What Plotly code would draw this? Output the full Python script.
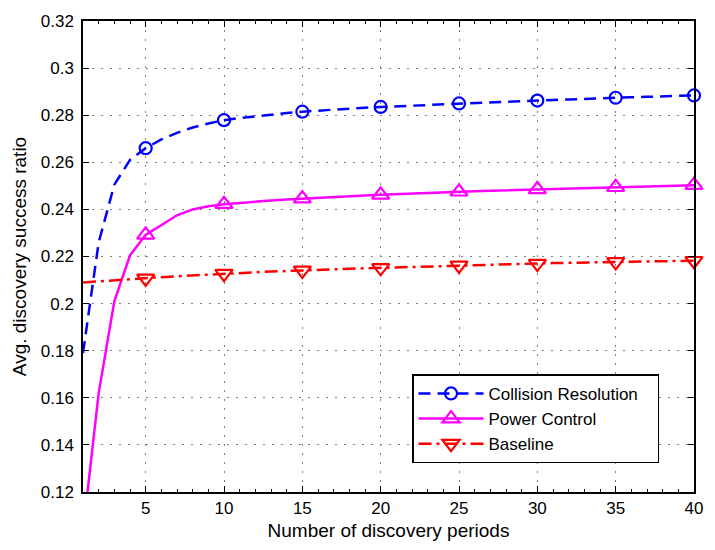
import plotly.graph_objects as go

# Number of discovery periods
periods = list(range(1, 41))

# Average discovery success ratio per scheme
collision_resolution = [
    0.1790, 0.2260, 0.2505, 0.2610, 0.2660, 0.2697, 0.2725, 0.2748, 0.2765, 0.2779,
    0.2788, 0.2796, 0.2803, 0.2809, 0.2815, 0.2820, 0.2824, 0.2828, 0.2832, 0.2835,
    0.2838, 0.2841, 0.2844, 0.2847, 0.2850, 0.2853, 0.2855, 0.2858, 0.2860, 0.2862,
    0.2865, 0.2867, 0.2870, 0.2872, 0.2874, 0.2876, 0.2878, 0.2880, 0.2882, 0.2884,
]
power_control = [
    0.1030, 0.1620, 0.2010, 0.2205, 0.2292, 0.2335, 0.2375, 0.2400, 0.2413, 0.2422,
    0.2428, 0.2433, 0.2438, 0.2442, 0.2446, 0.2449, 0.2453, 0.2456, 0.2459, 0.2462,
    0.2465, 0.2468, 0.2470, 0.2473, 0.2475, 0.2477, 0.2479, 0.2481, 0.2483, 0.2485,
    0.2487, 0.2489, 0.2491, 0.2493, 0.2494, 0.2496, 0.2498, 0.2500, 0.2501, 0.2503,
]
baseline = [
    0.2090, 0.2095, 0.2099, 0.2103, 0.2107, 0.2112, 0.2116, 0.2120, 0.2124, 0.2127,
    0.2130, 0.2133, 0.2136, 0.2139, 0.2141, 0.2144, 0.2146, 0.2148, 0.2150, 0.2152,
    0.2154, 0.2156, 0.2158, 0.2160, 0.2162, 0.2164, 0.2166, 0.2167, 0.2169, 0.2170,
    0.2172, 0.2173, 0.2175, 0.2176, 0.2177, 0.2178, 0.2179, 0.2180, 0.2181, 0.2182,
]

x_ticks = [5, 10, 15, 20, 25, 30, 35, 40]
y_ticks = [0.12, 0.14, 0.16, 0.18, 0.2, 0.22, 0.24, 0.26, 0.28, 0.3, 0.32]
y_tick_labels = ["0.12", "0.14", "0.16", "0.18", "0.2", "0.22", "0.24", "0.26", "0.28", "0.3", "0.32"]

FONT = "Liberation Sans, Arial, Helvetica, sans-serif"

series = [
    ("Collision Resolution\u00a0\u00a0\u00a0", collision_resolution, "#0000ff", "12px,7px", "circle-open", 12),
    ("Power Control", power_control, "#ff00ff", "solid", "triangle-up-open", 15),
    ("Baseline", baseline, "#ff0000", "13px,5px,3px,5px", "triangle-down-open", 15),
]

fig = go.Figure()
for name, values, color, dash, symbol, msize in series:
    # full curve
    fig.add_trace(go.Scatter(
        x=periods, y=values, mode="lines", showlegend=False,
        line=dict(color=color, width=2.5, dash=dash),
        hoverinfo="skip",
    ))
    # markers every fifth period
    mx = [p for p in periods if p % 5 == 0]
    my = [v for p, v in zip(periods, values) if p % 5 == 0]
    fig.add_trace(go.Scatter(
        x=mx, y=my, mode="markers", showlegend=False, cliponaxis=False,
        marker=dict(symbol=symbol, size=msize, color=color, line=dict(color=color, width=2.2)),
    ))
    # legend entry
    fig.add_trace(go.Scatter(
        x=[None], y=[None], mode="lines+markers", name=name,
        line=dict(color=color, width=2.5, dash=dash),
        marker=dict(symbol=symbol, size=msize, color=color, line=dict(color=color, width=2.2)),
    ))

axis_common = dict(
    showline=True, linecolor="black", linewidth=1.5, mirror="ticks",
    ticks="inside", ticklen=6, tickwidth=1, tickcolor="black",
    showgrid=True, gridcolor="#808080", gridwidth=1, griddash="2px,7px",
    zeroline=False, tickfont=dict(family=FONT, size=17, color="black"),
)

fig.update_xaxes(
    range=[1, 40], tickvals=x_ticks, ticktext=[str(v) for v in x_ticks],
    minor=dict(dtick=1, tick0=0, ticks="inside", ticklen=3, tickcolor="black", showgrid=False),
    title=dict(text="Number of discovery periods", font=dict(family=FONT, size=19, color="black"), standoff=7),
    **axis_common,
)
fig.update_yaxes(
    range=[0.12, 0.32], tickvals=y_ticks, ticktext=y_tick_labels,
    ticklabelstandoff=4,
    title=dict(text="Avg. discovery success ratio", font=dict(family=FONT, size=19, color="black"), standoff=9),
    **axis_common,
)

fig.update_layout(
    width=715, height=550,
    margin=dict(l=83, r=14, t=12, b=57),
    paper_bgcolor="white", plot_bgcolor="white",
    font=dict(family=FONT, color="black"),
    legend=dict(
        x=0.5385, y=0.2497, xanchor="left", yanchor="top",
        bgcolor="white", bordercolor="black", borderwidth=1.5,
        font=dict(family=FONT, size=17, color="black"),
        itemwidth=65, tracegroupgap=0,
    ),
)

fig.write_html("out.html")
